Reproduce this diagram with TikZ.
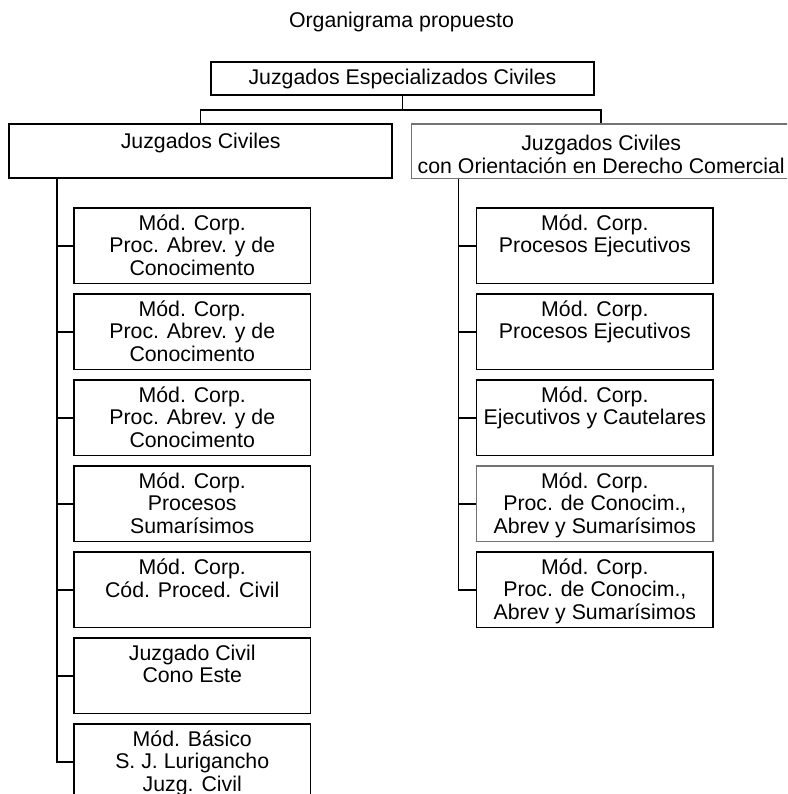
\documentclass[tikz,border=0pt]{standalone}
\usepackage{fontspec}
\setmainfont{Liberation Sans}
\newcommand\fsz{\fontsize{21.3}{22.3}\selectfont}
\newcommand\tbx[2][62pt]{\parbox[c][#1][t]{234pt}{\centering\strut #2}}
\begin{document}
\begin{tikzpicture}[x=1pt,y=-1pt,
  bx/.style={draw=black, line width=1.6pt, inner sep=0pt, minimum width=236.5pt, minimum height=75.5pt, font=\fsz},
  gbx/.style={bx, draw=black!55, line width=1.3pt},
  big/.style={draw=black, line width=1.6pt, inner sep=0pt, minimum width=383pt, minimum height=54.3pt, font=\fsz},
  gbig/.style={big, draw=black!55, line width=1.3pt, minimum width=379pt},
  ln/.style={line width=1.5pt}]
\useasboundingbox (0,0) rectangle (787,794);
\clip (0,0) rectangle (787,794);
\node[font=\fsz] (title) at (401.5,22) {Organigrama propuesto};
\node[draw=black, line width=1.6pt, inner sep=0pt, minimum width=383pt, minimum height=32.7pt, font=\fsz] (top) at (402.5,78.65) {Juzgados Especializados Civiles};
\node[big] (lj) at (200.7,151.15) {\parbox[c][36.6pt][t]{370pt}{\centering\strut Juzgados Civiles}};
\node[gbig] (rj) at (601.2,151.15) {\parbox[c][32.4pt][t]{375pt}{\centering\fontsize{21.3}{20.5}\selectfont\strut Juzgados Civiles\\con Orientación en Derecho Comercial}};
\coordinate (bus) at (402.5,110);
\draw[ln] (top.south) -- (bus) -| (lj.north);
\draw[ln] (bus) -| (rj.north);
% left column
\node[bx] (l1) at (192.25,245.75) {\tbx{Mód. Corp.\\Proc. Abrev. y de\\Conocimento}};
\node[bx] (l2) at (192.25,331.75) {\tbx{Mód. Corp.\\Proc. Abrev. y de\\Conocimento}};
\node[bx] (l3) at (192.25,417.75) {\tbx{Mód. Corp.\\Proc. Abrev. y de\\Conocimento}};
\node[bx] (l4) at (192.25,503.75) {\tbx{Mód. Corp.\\Procesos\\Sumarísimos}};
\node[bx] (l5) at (192.25,589.75) {\tbx{Mód. Corp.\\Cód. Proced. Civil}};
\node[bx] (l6) at (192.25,675.75) {\tbx{Juzgado Civil\\Cono Este}};
\node[bx] (l7) at (192.25,761.75) {\tbx{Mód. Básico\\S. J. Lurigancho\\Juzg. Civil}};
\coordinate (sL) at (57,0);
\draw[ln] (lj.south -| sL) |- (l7.west);
\foreach \n in {l1,l2,l3,l4,l5,l6} \draw[ln] (\n.west -| sL) -- (\n.west);
% right column
\node[bx] (r1) at (594.85,245.75) {\tbx{Mód. Corp.\\Procesos Ejecutivos}};
\node[bx] (r2) at (594.85,331.75) {\tbx{Mód. Corp.\\Procesos Ejecutivos}};
\node[bx] (r3) at (594.85,417.75) {\tbx{Mód. Corp.\\Ejecutivos y Cautelares}};
\node[gbx] (r4) at (594.85,503.75) {\tbx{Mód. Corp.\\Proc. de Conocim.,\\Abrev y Sumarísimos}};
\node[bx] (r5) at (594.85,589.75) {\tbx{Mód. Corp.\\Proc. de Conocim.,\\Abrev y Sumarísimos}};
\coordinate (sR) at (458.5,0);
\draw[ln] (rj.south -| sR) |- (r5.west);
\foreach \n in {r1,r2,r3,r4} \draw[ln] (\n.west -| sR) -- (\n.west);
\end{tikzpicture}
\end{document}
